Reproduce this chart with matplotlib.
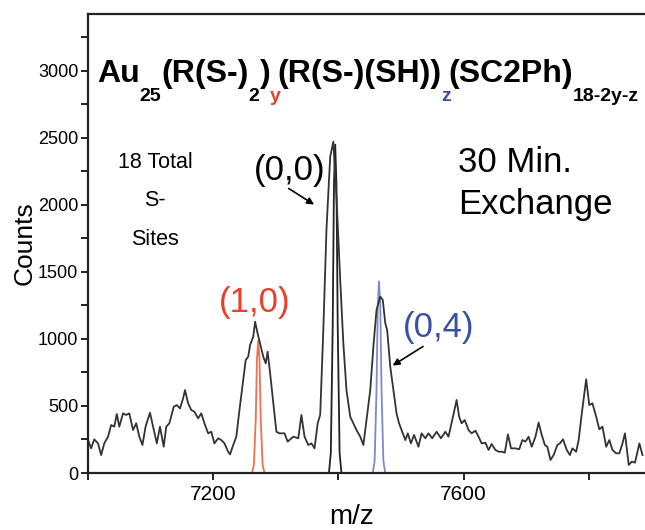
import numpy as np
import matplotlib
matplotlib.use('Agg')
import matplotlib.pyplot as plt
from matplotlib.ticker import MultipleLocator, FixedLocator

plt.rcParams['font.family'] = ['Liberation Sans', 'DejaVu Sans']

mz_exp = [7000, 7005, 7010, 7016, 7021, 7026, 7032, 7037, 7042, 7046, 7050, 7056, 7061, 7066,
          7072, 7077, 7082, 7087, 7092, 7099, 7104, 7110, 7115, 7121, 7125, 7130, 7137, 7142,
          7147, 7152, 7155, 7160, 7165, 7170, 7176, 7181, 7186, 7192, 7197, 7202, 7208, 7213,
          7218, 7224, 7227, 7232, 7237, 7242, 7248, 7252, 7256, 7259, 7264, 7267, 7271, 7275,
          7280, 7284, 7287, 7291, 7295, 7301, 7306, 7314, 7319,
          7328, 7336, 7341, 7346, 7352, 7357, 7362, 7367, 7371, 7376, 7381, 7387, 7392, 7397,
          7403, 7408, 7413, 7419, 7424, 7429, 7435, 7440, 7445, 7451, 7456, 7461, 7467, 7471,
          7475, 7478, 7483, 7488, 7493, 7497, 7501, 7507, 7511, 7516, 7521, 7528, 7533, 7539,
          7544, 7550, 7557, 7564, 7571, 7576, 7582, 7589, 7593, 7597, 7602,
          7608, 7613, 7619, 7624, 7629, 7635, 7640, 7645, 7651, 7656, 7661, 7666, 7671, 7676,
          7683, 7689, 7694, 7699, 7704, 7709, 7715, 7720, 7725, 7730, 7734, 7739, 7744, 7750,
          7754, 7759, 7765, 7770, 7774, 7780, 7784, 7789, 7796, 7801, 7806, 7812, 7817, 7822,
          7828, 7833, 7838, 7844, 7849, 7854, 7858, 7864, 7869, 7874, 7881, 7886]
counts_exp = [246, 184, 251, 221, 134, 221, 271, 358, 346, 440, 346, 445, 433, 445,
              321, 371, 271, 209, 346, 450, 346, 221, 346, 196, 346, 371, 495, 507,
              482, 557, 619, 520, 470, 457, 408, 445, 371, 296, 308, 221, 259, 246,
              221, 159, 139, 209, 271, 470, 694, 843, 868, 955, 1017, 1129, 1042, 967,
              868, 818, 905, 744, 570, 308, 296, 296, 234,
              271, 259, 433, 271, 209, 221, 184, 371, 433, 1067, 1813, 2360, 2472, 2062,
              1440, 967, 619, 420, 371, 321, 271, 209, 395, 619, 943, 1216, 1316, 1291,
              1117, 1067, 793, 619, 445, 371, 321, 246, 296, 221, 284, 196, 296, 259,
              296, 259, 308, 259, 308, 271, 395, 545, 420, 371, 395,
              321, 296, 316, 271, 221, 226, 172, 216, 172, 159, 159, 152, 288, 184,
              184, 177, 246, 234, 271, 196, 271, 376, 284, 209, 196, 97, 134, 209,
              221, 251, 172, 134, 184, 159, 246, 445, 699, 507, 520, 420, 326, 346,
              196, 246, 172, 147, 147, 221, 296, 60, 85, 77, 221, 134]

# Profils simules
mz_red = [7262, 7265, 7268, 7270, 7272, 7274, 7276, 7279, 7282]
counts_red = [0, 60, 400, 850, 990, 850, 400, 60, 0]
mz_black = [7385, 7388, 7391, 7393, 7395, 7397, 7399, 7402, 7405]
counts_black = [0, 150, 1100, 2150, 2450, 2150, 1100, 150, 0]
mz_blue = [7455, 7458, 7461, 7463, 7465, 7467, 7469, 7472, 7475]
counts_blue = [0, 90, 620, 1250, 1430, 1250, 620, 90, 0]

W, H = 645, 530
fig = plt.figure(figsize=(W / 100, H / 100), dpi=100)
ax = fig.add_axes([88 / W, 1 - 473 / H, 1 - 88 / W, (473 - 14) / H])

ax.plot(mz_red, counts_red, color='#f07050', lw=1.3)
ax.plot(mz_blue, counts_blue, color='#8088cc', lw=1.3)
ax.plot(mz_black, counts_black, color='#222222', lw=1.3)
ax.plot(mz_exp, counts_exp, color='#333333', lw=1.3)

ax.set_xlim(7000, 7890)
ax.set_ylim(0, 3425)

ax.spines['right'].set_visible(False)
for s in ['left', 'bottom', 'top']:
    ax.spines[s].set_linewidth(1.6)
    ax.spines[s].set_color('#222222')

ax.yaxis.set_major_locator(MultipleLocator(500))
ax.yaxis.set_minor_locator(MultipleLocator(250))
ax.xaxis.set_major_locator(FixedLocator([7200, 7600]))
ax.xaxis.set_minor_locator(FixedLocator([7000, 7400, 7800]))
ax.tick_params(axis='both', which='both', direction='out', length=5, width=1.4, color='#222222')
ax.tick_params(axis='y', labelsize=13, pad=2)
ax.tick_params(axis='x', labelsize=15, pad=4)
ax.tick_params(top=False, right=False)

ax.set_ylabel('Counts', fontsize=19, labelpad=2)
ax.yaxis.set_label_coords(-0.093, 0.5)
ax.text(0.474, -0.096, 'm/z', transform=ax.transAxes, fontsize=20, ha='center', va='center')

# Etiquettes des pics
ax.text(7322, 2260, '(0,0)', fontsize=25, ha='center', va='center', color='black')
ax.text(7266, 1275, '(1,0)', fontsize=25, ha='center', va='center', color='#e8402a')
ax.text(7560, 1089, '(0,4)', fontsize=25, ha='center', va='center', color='#3a4fa8')
ax.annotate('', xy=(7365, 1992), xytext=(7317, 2134),
            arrowprops=dict(arrowstyle='-|>', color='black', lw=1.2, mutation_scale=10))
ax.annotate('', xy=(7483, 791), xytext=(7539, 955),
            arrowprops=dict(arrowstyle='-|>', color='black', lw=1.2, mutation_scale=10))

ax.text(7107, 2320, '18 Total', fontsize=15.5, ha='center', va='center')
ax.text(7107, 2035, 'S-', fontsize=15.5, ha='center', va='center')
ax.text(7107, 1745, 'Sites', fontsize=15.5, ha='center', va='center')

ax.text(7592, 2320, '30 Min.', fontsize=25, ha='left', va='center')
ax.text(7592, 2000, 'Exchange', fontsize=25, ha='left', va='center')

# Formule en morceaux (couleurs differentes pour y et z)
# (texte, indice?, couleur, correction d'espacement en px apres le morceau)
pieces = [('Au', 0, 'black', 0), ('25', 1, 'black', 0), ('(R(S-)', 0, 'black', 0),
          ('2', 1, 'black', 0), (')', 0, 'black', 0), ('y', 1, '#e8402a', -4),
          ('(R(S-)(SH))', 0, 'black', 0), ('z', 1, '#3a4fa8', -3),
          ('(SC2Ph)', 0, 'black', 0), ('18-2y-z', 1, 'black', 0)]
fig.canvas.draw()
r = fig.canvas.get_renderer()
x = 97.0
base = 82.0
for txt, sub, col, kern in pieces:
    if sub:
        t = fig.text(x / W, 1 - (base + 19) / H, txt, fontsize=14, fontweight='bold',
                     family=['Liberation Sans Narrow', 'Liberation Sans'],
                     color=col, va='baseline', ha='left')
    else:
        t = fig.text(x / W, 1 - base / H, txt, fontsize=23, fontweight='bold',
                     color=col, va='baseline', ha='left')
    bb = t.get_window_extent(renderer=r)
    x = x + bb.width + kern

fig.savefig('out.png', dpi=100)
